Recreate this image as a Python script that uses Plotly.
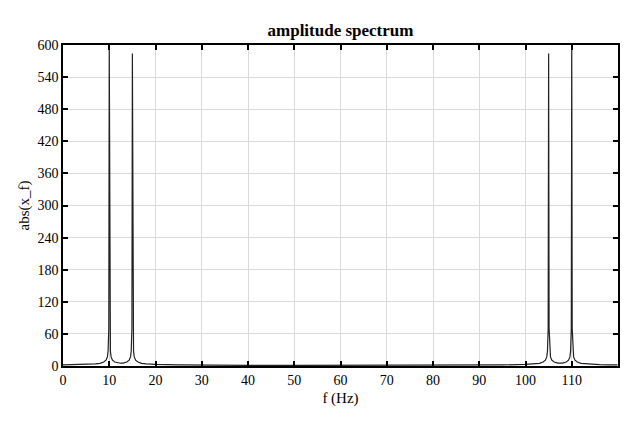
import plotly.graph_objects as go

# amplitude spectrum, values
freq = [0, 2, 4, 6, 7, 8, 8.8, 9.3, 9.6, 9.75, 9.9, 10, 10.1, 10.25, 10.4, 10.7, 11.2, 12, 12.5,
        13, 13.8, 14.3, 14.6, 14.75, 14.9, 15, 15.1, 15.25, 15.4, 15.7, 16.2, 17, 18, 20, 25,
        30, 40, 50, 60, 70, 80, 90, 95, 100, 102, 103, 103.8, 104.3, 104.6, 104.75, 104.9,
        105, 105.1, 105.25, 105.4, 105.7, 106.2, 107, 107.5, 108, 108.8, 109.3, 109.6, 109.75,
        109.9, 110, 110.1, 110.25, 110.4, 110.7, 111.2, 112, 114, 116, 118, 119.9]
amp = [2.0, 2.2, 2.6, 3.4, 4.0, 5.0, 7.5, 11, 17, 28, 70, 598, 70, 28, 17, 11, 7.5, 5.5, 5.2,
       5.5, 7.5, 11, 17, 28, 70, 584, 70, 28, 17, 11, 7.5, 5.0, 4.0, 3.0, 2.0,
       1.5, 1.2, 1.1, 1.0, 1.1, 1.2, 1.5, 2.0, 3.0, 4.0, 5.0, 7.5, 11, 17, 28, 70,
       584, 70, 28, 17, 11, 7.5, 5.5, 5.2, 5.5, 7.5, 11, 17, 28,
       70, 598, 70, 28, 17, 11, 7.5, 5.0, 3.4, 2.6, 2.2, 2.0]

x_ticks = list(range(0, 120, 10))
y_ticks = list(range(0, 601, 60))

fig = go.Figure()
fig.add_trace(go.Scatter(x=freq, y=amp, mode='lines',
                         line=dict(color='#222222', width=1.2),
                         showlegend=False))

axis_style = dict(showline=True, linecolor='black', linewidth=1.5, mirror='ticks',
                  ticks='inside', ticklen=5, tickcolor='black', tickwidth=1.5,
                  showgrid=True, gridcolor='#d9d9d9', gridwidth=1, zeroline=False,
                  automargin=False,
                  tickfont=dict(family='Liberation Serif', size=14, color='black'))

# page body has an 8px default margin, so the figure is a bit smaller than the window
fig.update_layout(
    width=632, height=415,
    margin=dict(l=55, r=22, t=37, b=57),
    paper_bgcolor='white', plot_bgcolor='white',
    title=dict(text='<b>amplitude spectrum</b>', xref='paper', x=0.5, xanchor='center',
               y=0.947, yanchor='middle',
               font=dict(family='Liberation Serif', size=17, color='black')),
    xaxis=dict(range=[0, 120], tickvals=x_ticks,
               title=dict(text='f (Hz)', standoff=6,
                          font=dict(family='Liberation Serif', size=15, color='black')),
               **axis_style),
    yaxis=dict(range=[0, 600], tickvals=y_ticks,
               title=dict(text='abs(x_f)', standoff=4,
                          font=dict(family='Liberation Serif', size=15, color='black')),
               **axis_style),
)

fig.write_html("out.html")
